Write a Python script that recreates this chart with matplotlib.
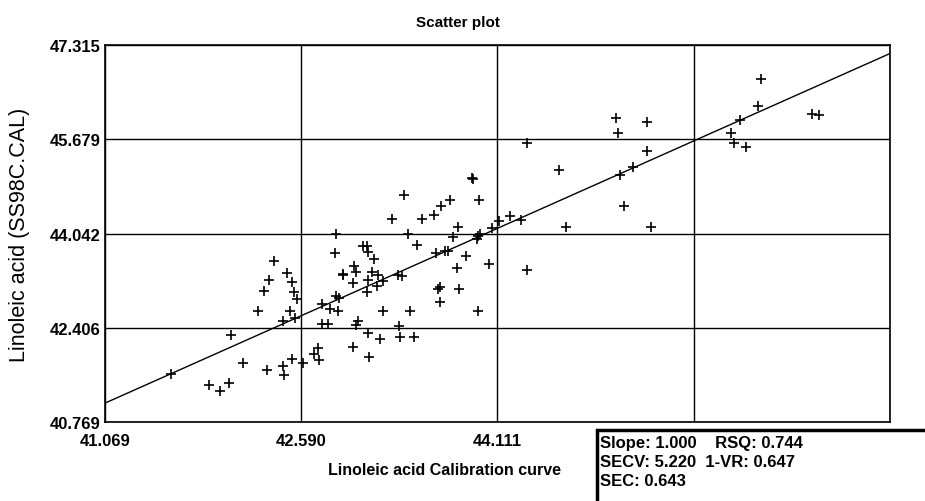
import matplotlib
matplotlib.use("Agg")
import matplotlib.pyplot as plt
from matplotlib.patches import Rectangle

# calibration (x) vs predicted (y)
calib = [41.580, 41.875, 41.960, 42.030, 42.045, 42.138, 42.254, 42.301, 42.340, 42.378,
         42.479, 42.518, 42.533, 42.557, 42.502, 42.448, 42.541, 42.324, 42.448, 42.456,
         42.518, 42.603, 42.688, 42.719, 42.727, 42.750, 42.851, 42.913, 42.859, 42.882,
         42.812, 42.874, 42.750, 42.797, 42.991, 43.115, 43.029, 43.014, 43.107, 43.200,
         43.347, 43.355, 43.463, 43.223, 43.432, 43.099, 43.177, 42.991, 43.107, 43.223,
         42.913, 43.014, 42.998, 43.138, 43.184, 43.339, 43.370, 43.153, 43.068, 43.099,
         43.107, 42.859, 43.417, 43.486, 43.293, 43.525, 43.386, 43.618, 43.672, 43.742,
         43.913, 43.920, 43.967, 43.804, 43.765, 43.634, 43.703, 43.727, 43.866, 43.796,
         43.665, 43.649, 43.812, 43.665, 43.959, 43.975, 43.951, 43.959, 44.068, 44.122,
         44.207, 44.292, 44.044, 44.339, 44.339, 44.587, 44.641, 45.028, 45.044, 45.269,
         45.269, 45.160, 45.059, 45.090, 45.300, 46.152, 46.129, 45.989, 45.919, 45.943,
         46.036, 46.547, 46.601]
predicted = [41.602, 41.411, 41.307, 41.446, 42.280, 41.793, 42.696, 43.044, 43.235, 43.564,
             43.356, 43.200, 43.026, 42.905, 42.696, 42.523, 42.575, 41.672, 41.741, 41.585,
             41.863, 41.793, 41.950, 42.054, 41.846, 42.818, 43.703, 43.321, 42.957, 42.922,
             42.731, 42.696, 42.471, 42.471, 42.071, 41.898, 42.523, 42.453, 42.314, 42.210,
             42.436, 42.245, 42.245, 42.696, 42.696, 43.026, 43.130, 43.182, 43.235, 43.217,
             43.339, 43.373, 43.478, 43.373, 43.321, 43.321, 43.304, 43.599, 43.825, 43.825,
             43.721, 44.033, 44.033, 43.842, 44.294, 44.294, 44.710, 44.363, 44.519, 44.624,
             45.006, 44.988, 44.624, 44.155, 43.981, 43.703, 43.738, 43.738, 43.651, 43.443,
             43.113, 43.078, 43.078, 42.853, 43.999, 44.033, 43.946, 42.696, 44.137, 44.259,
             44.346, 44.276, 43.512, 43.408, 45.613, 45.144, 44.155, 46.047, 45.787, 45.978,
             45.474, 45.197, 45.058, 44.519, 44.155, 46.725, 46.256, 46.013, 45.787, 45.613,
             45.544, 46.117, 46.099]

fit_x = [41.069, 47.153]
fit_y = [41.10, 47.17]

x_ticks = [41.069, 42.590, 44.111, 45.632, 47.153]
x_labels = ["41.069", "42.590", "44.111", "", ""]
y_ticks = [40.769, 42.406, 44.042, 45.679, 47.315]
y_labels = ["40.769", "42.406", "44.042", "45.679", "47.315"]

stats = ["Slope: 1.000    RSQ: 0.744", "SECV: 5.220  1-VR: 0.647", "SEC: 0.643"]

font = ["Liberation Sans", "DejaVu Sans"]

fig = plt.figure(figsize=(9.25, 5.02), dpi=100)
ax = fig.add_axes([0.1135, 0.157, 0.8486, 0.751])

ax.plot(fit_x, fit_y, color="black", lw=1.0, zorder=3)
ax.plot(calib, predicted, linestyle="none", marker="+", color="black",
        markersize=7, markeredgewidth=1.2, zorder=4)

ax.set_xlim(x_ticks[0], x_ticks[-1])
ax.set_ylim(y_ticks[0], y_ticks[-1])
ax.set_xticks(x_ticks)
ax.set_xticklabels(x_labels, family=font, fontweight="bold", fontsize=12)
ax.set_yticks(y_ticks)
ax.set_yticklabels(y_labels, family=font, fontweight="bold", fontsize=12)
ax.tick_params(axis="x", length=0, pad=8)
ax.tick_params(axis="y", length=0, pad=3.5)
ax.grid(True, color="black", lw=1.0)
for s in ax.spines.values():
    s.set_linewidth(1.2)

ax.set_title("Scatter plot", family=font, fontweight="bold", fontsize=11, x=0.45, pad=14)
ax.set_xlabel("Linoleic acid Calibration curve", family=font, fontweight="bold",
              fontsize=11.5)
ax.xaxis.set_label_coords(0.433, -0.106)
ax.set_ylabel("Linoleic acid (SS98C.CAL)", family=font, fontsize=15.5)
ax.yaxis.set_label_coords(-0.0955, 0.5)

# stats box in the lower right corner
fig.patches.append(Rectangle((597 / 925, -0.05), 0.4, (502 - 431) / 502 + 0.05,
                             transform=fig.transFigure, facecolor="white",
                             edgecolor="black", lw=2.5))
for i, line in enumerate(stats):
    fig.text(600 / 925, 1 - (444 + 19 * i) / 502, line, family=font,
             fontweight="bold", fontsize=12, va="center", ha="left")

fig.savefig("out.png", dpi=100)
